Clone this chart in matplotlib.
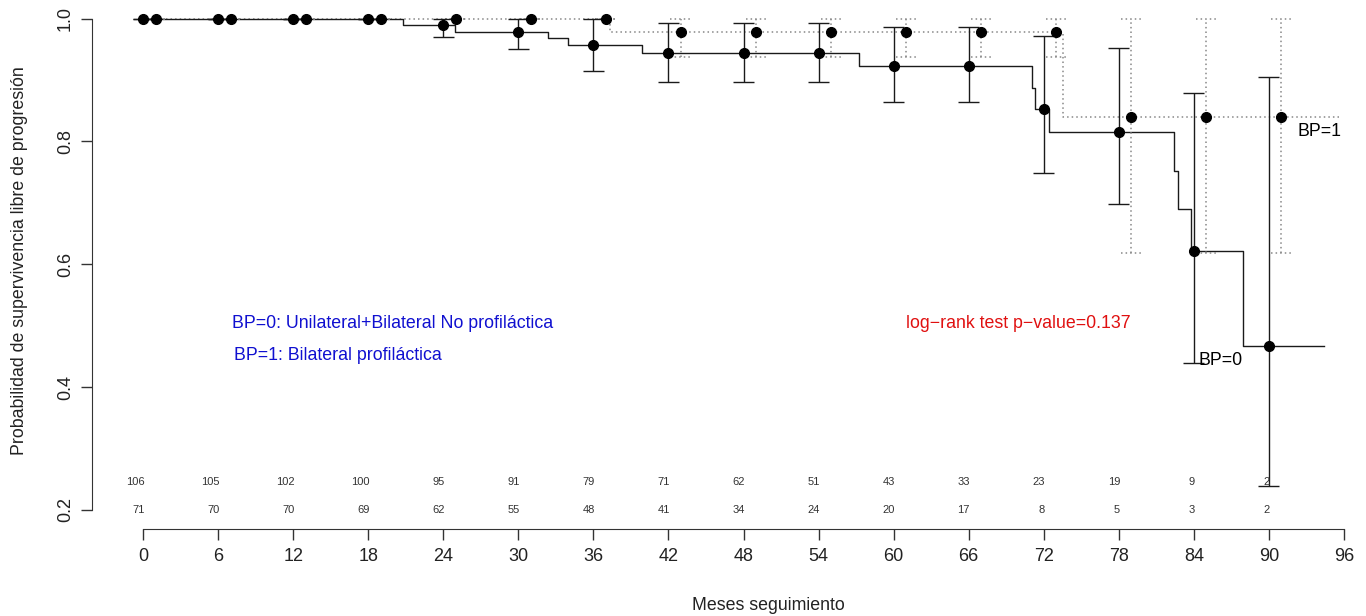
import matplotlib
matplotlib.use("Agg")
import matplotlib.pyplot as plt
import numpy as np

plt.rcParams["font.family"] = ["Liberation Sans", "DejaVu Sans"]

# Curvas Kaplan-Meier (tiempos de salto y supervivencia)
bp0_time = [0, 20.8, 24.9, 32.4, 34.0, 39.9, 57.2, 71.1, 71.3, 72.4, 82.4, 82.7, 83.8, 87.9, 94.4]
bp0_surv = [1.0, 0.990, 0.979, 0.969, 0.957, 0.944, 0.923, 0.887, 0.853, 0.816, 0.752, 0.690, 0.622, 0.467, 0.467]
bp1_time = [0, 37.3, 73.5, 95.6]
bp1_surv = [1.0, 0.979, 0.840, 0.840]

# Puntos cada 6 meses con intervalos de confianza
mark_times = [0, 6, 12, 18, 24, 30, 36, 42, 48, 54, 60, 66, 72, 78, 84, 90]
bp0_lower = [1.0, 1.0, 1.0, 1.0, 0.970, 0.951, 0.915, 0.897, 0.897, 0.897, 0.864, 0.864, 0.749, 0.698, 0.439, 0.239]
bp0_upper = [1.0, 1.0, 1.0, 1.0, 1.0, 1.0, 1.0, 0.993, 0.993, 0.993, 0.987, 0.987, 0.971, 0.953, 0.879, 0.905]
bp1_lower = [1.0, 1.0, 1.0, 1.0, 1.0, 1.0, 1.0, 0.938, 0.938, 0.938, 0.938, 0.938, 0.938, 0.619, 0.619, 0.619]
bp1_upper = [1.0] * 16

# Pacientes en riesgo
risk_bp0 = [106, 105, 102, 100, 95, 91, 79, 71, 62, 51, 43, 33, 23, 19, 9, 2]
risk_bp1 = [71, 70, 70, 69, 62, 55, 48, 41, 34, 24, 20, 17, 8, 5, 3, 2]

x_ticks = list(range(0, 97, 6))
y_ticks = [0.2, 0.4, 0.6, 0.8, 1.0]


def step_value(times, surv, t):
    idx = np.searchsorted(times, t, side="right") - 1
    return surv[idx]


W, H = 1366, 616
fig = plt.figure(figsize=(W / 100, H / 100), dpi=100)
ax = fig.add_axes([92 / W, 87 / H, (W - 92) / W, 530 / H])
ax.set_xlim(-4.08, 97.76)
ax.set_ylim(0.169, 1.032)

ax.step(bp1_time, bp1_surv, where="post", color="#888888", lw=1.1, linestyle=(0, (1, 2)))
ax.step(bp0_time, bp0_surv, where="post", color="#1a1a1a", lw=1.0)

cap = 0.84
mt0 = np.array(mark_times, dtype=float)
mt1 = mt0 + 1
m0 = [step_value(bp0_time, bp0_surv, t) for t in mt0]
m1 = [step_value(bp1_time, bp1_surv, t) for t in mt1]

ax.vlines(mt1, bp1_lower, bp1_upper, colors="#888888", lw=1.1, linestyles=(0, (1, 2)))
ax.hlines(bp1_lower, mt1 - cap, mt1 + cap, colors="#888888", lw=1.1, linestyles=(0, (1, 2)))
ax.hlines(bp1_upper, mt1 - cap, mt1 + cap, colors="#888888", lw=1.1, linestyles=(0, (1, 2)))

ax.vlines(mt0, bp0_lower, bp0_upper, colors="#1a1a1a", lw=1.0)
ax.hlines(bp0_lower, mt0 - cap, mt0 + cap, colors="#1a1a1a", lw=1.0)
ax.hlines(bp0_upper, mt0 - cap, mt0 + cap, colors="#1a1a1a", lw=1.0)

ax.plot(mt0, m0, "o", color="black", ms=7, zorder=5)
ax.plot(mt1, m1, "o", color="black", ms=7, zorder=5)

# tabla de riesgo
for t, a, b in zip(mark_times, risk_bp0, risk_bp1):
    ax.text(t + 0.1, 0.245, str(a), ha="right", va="center", fontsize=8, color="#333333")
    ax.text(t + 0.1, 0.200, str(b), ha="right", va="center", fontsize=8, color="#333333")

fs = 12.8
ax.text(7.11, 0.503, "BP=0: Unilateral+Bilateral No profiláctica", color="#1010d0",
        fontsize=fs, ha="left", va="center")
ax.text(7.27, 0.452, "BP=1: Bilateral profiláctica", color="#1010d0",
        fontsize=fs, ha="left", va="center")
ax.text(61.0, 0.503, "log\u2212rank test p\u2212value=0.137", color="#e01010",
        fontsize=fs, ha="left", va="center")
ax.text(92.3, 0.816, "BP=1", fontsize=fs, ha="left", va="center")
ax.text(84.4, 0.444, "BP=0", fontsize=fs, ha="left", va="center")

for side in ("top", "right"):
    ax.spines[side].set_visible(False)
ax.spines["left"].set_bounds(0.2, 1.0)
ax.spines["bottom"].set_bounds(0, 96)
ax.spines["left"].set_color("#333333")
ax.spines["bottom"].set_color("#333333")
ax.set_xticks(x_ticks)
ax.set_yticks(y_ticks)
ax.set_yticklabels([f"{v:.1f}" for v in y_ticks], rotation=90, va="center")
ax.tick_params(axis="both", direction="out", length=8, width=1, color="#333333",
               labelsize=13, labelcolor="#222222")
ax.tick_params(axis="x", pad=6)
ax.tick_params(axis="y", pad=5)

fig.text(768 / W, 1 - 605 / H, "Meses seguimiento", ha="center", va="center", fontsize=fs, color="#222222")
fig.text(20 / W, 1 - 261 / H, "Probabilidad de supervivencia libre de progresión",
         ha="center", va="center", rotation=90, fontsize=fs, color="#222222")

fig.savefig("out.png", dpi=100)
